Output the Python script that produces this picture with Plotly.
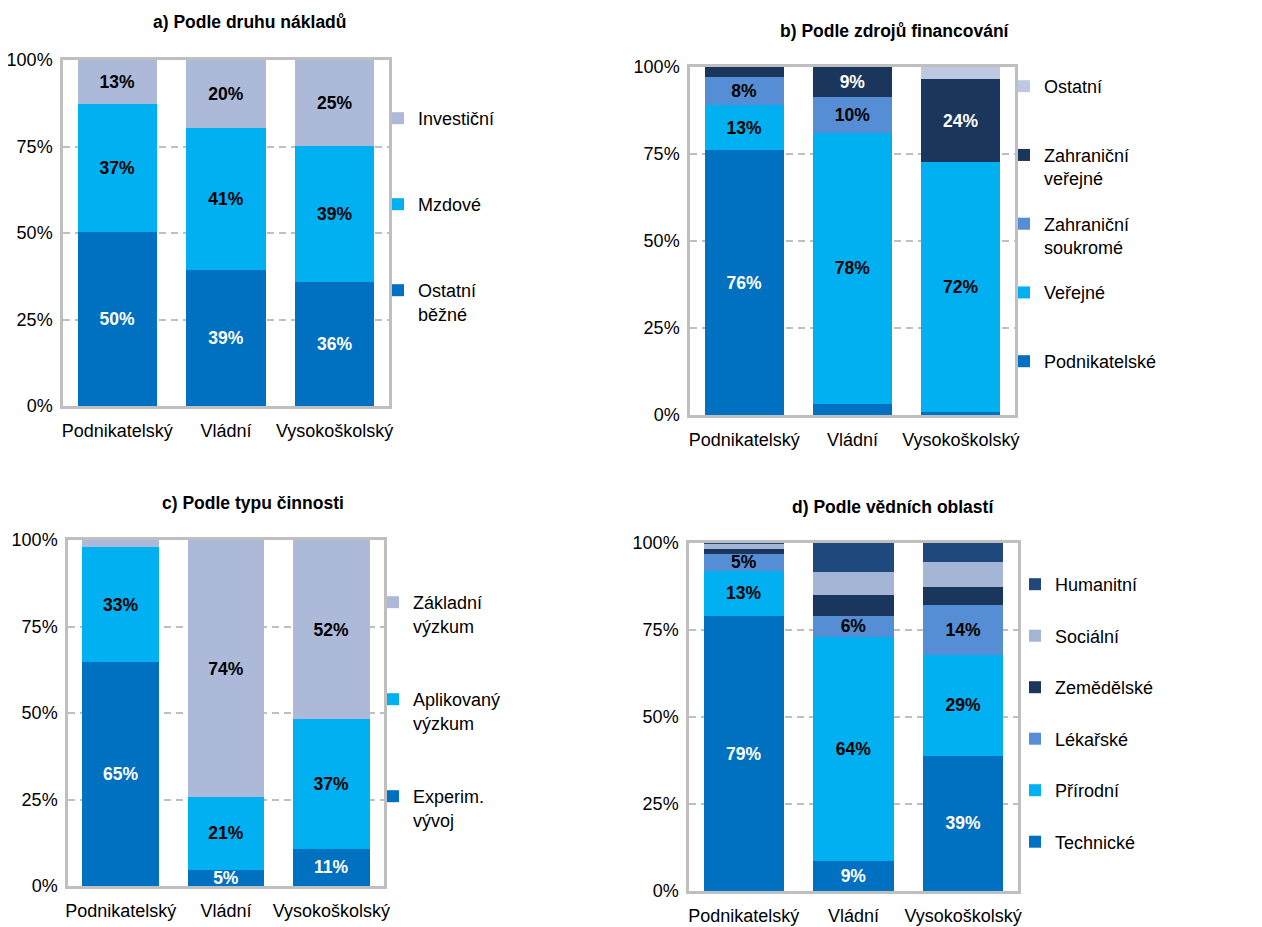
"""Struktura výdajů na VaV podle sektorů - čtyři skládané sloupcové grafy."""
import plotly.graph_objects as go

KATEGORIE = ["Podnikatelský", "Vládní", "Vysokoškolský"]
PROCENTA_OSY = [0, 25, 50, 75, 100]

# a) Podle druhu nákladů (%)
naklady_ostatni_bezne = [50.2, 39.2, 35.9]
naklady_mzdove = [37.0, 41.2, 39.3]
naklady_investicni = [12.8, 19.6, 24.8]

# b) Podle zdrojů financování (%)
fin_podnikatelske = [76.1, 3.3, 0.9]
fin_verejne = [13.0, 77.7, 71.8]
fin_zahr_soukrome = [7.9, 10.4, 0.0]
fin_zahr_verejne = [3.0, 8.6, 23.8]
fin_ostatni = [0.0, 0.0, 3.5]

# c) Podle typu činnosti (%)
cin_experim = [64.6, 4.7, 10.8]
cin_aplikovany = [33.4, 21.0, 37.4]
cin_zakladni = [2.0, 74.3, 51.8]

# d) Podle vědních oblastí (%)
obl_technicke = [79.0, 8.6, 38.8]
obl_prirodni = [13.0, 64.4, 29.1]
obl_lekarske = [4.8, 6.1, 14.2]
obl_zemedelske = [1.6, 6.1, 5.3]
obl_socialni = [1.4, 6.5, 7.0]
obl_humanitni = [0.2, 8.3, 5.6]

# which segments carry a value label
ALL = [True, True, True]
NONE = [False, False, False]

DARK = "#0070C0"
CYAN = "#00B0F0"
GREYBLUE = "#ACB9D8"
PALE = "#BDC8E1"
MID = "#558ED5"
NAVY = "#1B365D"
HUMAN = "#1F487C"
SOCIAL = "#A4B5D5"

FONT = "Liberation Sans, Arial, sans-serif"
FS = 18
AXIS_GREY = "#BFBFBF"

# layout in reference pixels (page coordinates)
panels = [
    {
        "title": "a) Podle druhu nákladů", "title_xy": (250, 22),
        "x": (63, 389), "y": (60, 406), "legend_xy": (378, 100), "gap": 36.2,
        "series": [
            ("Ostatní<br>běžné", naklady_ostatni_bezne, ALL, DARK, "white"),
            ("Mzdové<br> ", naklady_mzdove, ALL, CYAN, "black"),
            ("Investiční<br> ", naklady_investicni, ALL, GREYBLUE, "black"),
        ],
    },
    {
        "title": "b) Podle zdrojů financování", "title_xy": (895, 31),
        "x": (690, 1015), "y": (67, 415), "legend_xy": (1004, 68), "gap": 18.95,
        "series": [
            ("Podnikatelské<br> ", fin_podnikatelske, [True, False, False], DARK, "white"),
            ("Veřejné<br> ", fin_verejne, ALL, CYAN, "black"),
            ("Zahraniční<br>soukromé", fin_zahr_soukrome, [True, True, False], MID, "black"),
            ("Zahraniční<br>veřejné", fin_zahr_verejne, [False, True, True], NAVY, "white"),
            ("Ostatní<br> ", fin_ostatni, NONE, PALE, "black"),
        ],
    },
    {
        "title": "c) Podle typu činnosti", "title_xy": (253, 503),
        "x": (68, 384), "y": (540, 886), "legend_xy": (373, 584), "gap": 47.2,
        "series": [
            ("Experim.<br>vývoj", cin_experim, ALL, DARK, "white"),
            ("Aplikovaný<br>výzkum", cin_aplikovany, ALL, CYAN, "black"),
            ("Základní<br>výzkum", cin_zakladni, [False, True, True], GREYBLUE, "black"),
        ],
    },
    {
        "title": "d) Podle vědních oblastí", "title_xy": (893, 507),
        "x": (689, 1018), "y": (543, 891), "legend_xy": (1015, 566), "gap": 25.1,
        "series": [
            ("Technické", obl_technicke, ALL, DARK, "white"),
            ("Přírodní", obl_prirodni, ALL, CYAN, "black"),
            ("Lékařské", obl_lekarske, ALL, MID, "black"),
            ("Zemědělské", obl_zemedelske, NONE, NAVY, "white"),
            ("Sociální", obl_socialni, NONE, SOCIAL, "black"),
            ("Humanitní", obl_humanitni, NONE, HUMAN, "white"),
        ],
    },
]

W, H = 1262, 927
BODY = 8  # default page margin around the plot div


def fx(px):
    return (px - BODY) / W


def fy(py):
    return 1 - (py - BODY) / H


fig = go.Figure()
annotations = []

for i, p in enumerate(panels, start=1):
    sfx = "" if i == 1 else str(i)
    legend_id = "legend" + sfx
    n = len(p["series"])
    for j, (name, values, mask, color, txtcolor) in enumerate(p["series"]):
        labels = [f"{v:.0f}%" if show else "" for v, show in zip(values, mask)]
        fig.add_trace(go.Bar(
            x=KATEGORIE, y=values, name=name, text=labels,
            textposition="inside", insidetextanchor="middle", textangle=0,
            textfont=dict(family=FONT, size=17.5, color=txtcolor, weight="bold"),
            marker=dict(color=color, line=dict(width=0)),
            xaxis="x" + sfx, yaxis="y" + sfx,
            legend=legend_id, legendgroup=f"{i}-{j}", legendrank=n - j,
            hovertemplate="%{x}: %{y:.1f}%<extra>" + name.replace("<br>", " ") + "</extra>",
        ))

    x0, x1 = p["x"]
    y0, y1 = p["y"]
    axis_common = dict(showline=True, linecolor=AXIS_GREY, linewidth=2.5,
                       mirror=True, ticks="", fixedrange=True, automargin=False,
                       tickfont=dict(family=FONT, size=FS, color="black"))
    fig.layout["xaxis" + sfx] = dict(
        domain=[fx(x0), fx(x1)], anchor="y" + sfx, showgrid=False,
        ticklabelstandoff=7, **axis_common)
    fig.layout["yaxis" + sfx] = dict(
        domain=[fy(y1), fy(y0)], anchor="x" + sfx, range=[0, 100],
        tickmode="array", tickvals=PROCENTA_OSY,
        ticktext=[f"{t}%" for t in PROCENTA_OSY], showgrid=True,
        gridcolor=AXIS_GREY, gridwidth=2, griddash="7px,5px",
        ticklabelstandoff=4, zeroline=False, **axis_common)

    lx, ly = p["legend_xy"]
    fig.layout[legend_id] = dict(
        x=fx(lx), y=fy(ly), xanchor="left", yanchor="top",
        traceorder="grouped", tracegroupgap=p["gap"], valign="top",
        bgcolor="rgba(0,0,0,0)", borderwidth=0,
        font=dict(family=FONT, size=FS, color="black"))

    tx, ty = p["title_xy"]
    annotations.append(dict(
        text="<b>" + p["title"] + "</b>", x=fx(tx), y=fy(ty),
        xref="paper", yref="paper", xanchor="center", yanchor="middle",
        showarrow=False, font=dict(family=FONT, size=17.5, color="black")))

fig.update_layout(
    width=W, height=H, barmode="stack", bargap=0.27,
    margin=dict(l=0, r=0, t=0, b=0, pad=0, autoexpand=False),
    paper_bgcolor="white", plot_bgcolor="white",
    showlegend=True, annotations=annotations,
    uniformtext=dict(minsize=17.5, mode="show"),
    font=dict(family=FONT, color="black"),
)

fig.write_html("out.html")
